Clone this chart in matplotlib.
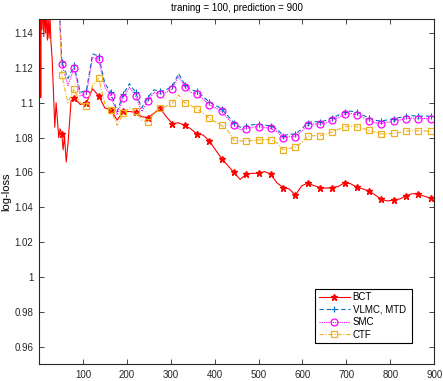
import numpy as np
import matplotlib
matplotlib.use("Agg")
import matplotlib.pyplot as plt

# values
grid = [52, 66, 80, 94, 108, 122, 136, 150, 164, 178, 192, 206, 220, 234, 248,
        262, 276, 290, 304, 318, 332, 346, 360, 374, 388, 402, 416, 430, 444,
        458, 472, 486, 500, 514, 528, 542, 556, 570, 584, 598, 612, 626, 640,
        654, 668, 682, 696, 710, 724, 738, 752, 766, 780, 794, 808, 822, 836,
        850, 864, 878, 892]

smc = [1.1222, 1.110, 1.120, 1.104, 1.105, 1.126, 1.125, 1.109, 1.104, 1.093,
       1.103, 1.109, 1.104, 1.095, 1.101, 1.106, 1.105, 1.106, 1.108, 1.115,
       1.109, 1.106, 1.105, 1.102, 1.099, 1.097, 1.095, 1.091, 1.087, 1.0846,
       1.0852, 1.086, 1.0862, 1.0858, 1.0853, 1.0835, 1.0798, 1.0805, 1.0806,
       1.0835, 1.0872, 1.0878, 1.0876, 1.0885, 1.090, 1.0915, 1.0935, 1.0938,
       1.0932, 1.0915, 1.0898, 1.0885, 1.0881, 1.0888, 1.0895, 1.0902, 1.0909,
       1.0912, 1.0909, 1.0910, 1.0908]

vlmc = [1.1235, 1.114, 1.1215, 1.106, 1.107, 1.128, 1.127, 1.111, 1.106, 1.095,
        1.105, 1.111, 1.106, 1.097, 1.103, 1.1075, 1.1065, 1.1075, 1.1095, 1.1168,
        1.1105, 1.1075, 1.1065, 1.1035, 1.1005, 1.0985, 1.0965, 1.0925, 1.0885,
        1.086, 1.0866, 1.0874, 1.0876, 1.0872, 1.0867, 1.0849, 1.0812, 1.0819,
        1.082, 1.0849, 1.0886, 1.0892, 1.089, 1.0899, 1.0914, 1.0929, 1.0949,
        1.0952, 1.0946, 1.0929, 1.0912, 1.0899, 1.0895, 1.0902, 1.0909, 1.0916,
        1.0923, 1.0926, 1.0923, 1.0924, 1.0922]

ctf = [1.1158, 1.100, 1.108, 1.100, 1.098, 1.110, 1.114, 1.0995, 1.096, 1.087,
       1.094, 1.097, 1.0955, 1.090, 1.089, 1.094, 1.0968, 1.098, 1.100, 1.1045,
       1.100, 1.0985, 1.0965, 1.094, 1.091, 1.089, 1.087, 1.084, 1.0785, 1.078,
       1.0781, 1.0783, 1.0787, 1.0788, 1.0787, 1.077, 1.0731, 1.0738, 1.0746,
       1.077, 1.0808, 1.0811, 1.081, 1.082, 1.0833, 1.0848, 1.0862, 1.0865,
       1.0862, 1.0852, 1.0841, 1.083, 1.0821, 1.0822, 1.0824, 1.083, 1.0838,
       1.0840, 1.0839, 1.0838, 1.0837]

# the three smooth estimators start off the top of the axes
start_x = [40]
start_smc = [1.19]
start_vlmc = [1.19]
start_ctf = [1.19]

# BCT: wild start, then its own run on the grid from 80 on
bct_early_x = [1, 3, 4, 5, 7, 9, 11, 13, 15, 17, 19, 21, 23, 25, 27, 30, 33,
               36, 39, 42, 45, 48, 52, 55, 58, 62, 66, 70, 73]
bct_early = [1.16, 1.15, 1.103, 1.165, 1.142, 1.16, 1.138, 1.155, 1.14, 1.152,
             1.136, 1.148, 1.137, 1.15, 1.136, 1.125, 1.106, 1.086, 1.10, 1.09,
             1.08, 1.085, 1.082, 1.073, 1.081, 1.066, 1.0764, 1.09, 1.101]
bct = [1.103, 1.099, 1.100, 1.108, 1.104, 1.097, 1.096, 1.090, 1.095, 1.095,
       1.0945, 1.092, 1.0915, 1.094, 1.0968, 1.092, 1.088, 1.0885, 1.087, 1.085,
       1.082, 1.0815, 1.078, 1.073, 1.068, 1.064, 1.060, 1.056, 1.059, 1.0595,
       1.0595, 1.0605, 1.059, 1.054, 1.0513, 1.0505, 1.047, 1.0522, 1.054,
       1.0525, 1.0513, 1.051, 1.0513, 1.052, 1.054, 1.0535, 1.0515, 1.0505,
       1.0493, 1.047, 1.0445, 1.0436, 1.0442, 1.0448, 1.0466, 1.0478, 1.0476,
       1.0463, 1.0452]

xticks = [100, 200, 300, 400, 500, 600, 700, 800, 900]
yticks = [0.96, 0.98, 1.0, 1.02, 1.04, 1.06, 1.08, 1.1, 1.12, 1.14]
ytick_labels = ["0.96", "0.98", "1", "1.02", "1.04", "1.06", "1.08", "1.1", "1.12", "1.14"]

RED = (1, 0, 0)
BLUE = (0, 0.447, 0.741)
MAGENTA = (1, 0, 1)
ORANGE = (0.929, 0.694, 0.125)

plt.rcParams["font.family"] = ["Liberation Sans", "DejaVu Sans"]

fig = plt.figure(figsize=(4.43, 3.81), dpi=100)
ax = fig.add_axes([0.088, 0.0446, 0.892, 0.905])

marks = [(x - 52) % 28 == 0 for x in grid]


def series(head_x, head_y, ys):
    xs = list(head_x) + grid[len(grid) - len(ys):]
    every = [False] * len(head_x) + marks[len(grid) - len(ys):]
    return xs, list(head_y) + list(ys), every


bx, by, bm = series(bct_early_x, bct_early, bct)
bm[bct_early_x.index(52)] = True
ax.plot(bx, by, color=RED, lw=0.8, ls="-", marker="*", ms=4.5, markevery=bm,
        label="BCT")
vx, vy, vm = series(start_x, start_vlmc, vlmc)
ax.plot(vx, vy, color=BLUE, lw=0.8, ls=(0, (4, 2.5)), marker="+", ms=5,
        mew=0.8, markevery=vm, label="VLMC, MTD")
sx, sy, sm = series(start_x, start_smc, smc)
ax.plot(sx, sy, color=MAGENTA, lw=0.8, ls=(0, (1, 1)), marker="o", ms=5,
        mfc="none", mew=0.9, markevery=sm, label="SMC")
cx, cy, cm = series(start_x, start_ctf, ctf)
ax.plot(cx, cy, color=ORANGE, lw=0.8, ls=(0, (4, 1.5, 1, 1.5)), marker="s",
        ms=4.5, mfc="none", mew=0.9, markevery=cm, label="CTF")

ax.set_xlim(0, 900)
ax.set_ylim(0.95, 1.148)
ax.set_xticks(xticks)
ax.set_yticks(yticks)
ax.set_yticklabels(ytick_labels)
ax.tick_params(direction="in", length=3.5, width=0.6, labelsize=7,
               top=True, right=True, colors=(0.15, 0.15, 0.15), pad=4)
for s in ax.spines.values():
    s.set_linewidth(0.8)
    s.set_color((0.15, 0.15, 0.15))

ax.set_title("traning = 100, prediction = 900", fontsize=7, pad=6)
ax.set_ylabel("log-loss", fontsize=8, labelpad=2)

leg = ax.legend(loc="lower left", bbox_to_anchor=(0.699, 0.061, 0.246, 0.169),
                mode="expand", fontsize=7, frameon=True, fancybox=False,
                edgecolor="black", framealpha=1, handlelength=3.2,
                borderpad=0.35, labelspacing=0.25, handletextpad=0.3,
                borderaxespad=0)
leg.get_frame().set_linewidth(0.8)

fig.savefig("out.png", dpi=100)
